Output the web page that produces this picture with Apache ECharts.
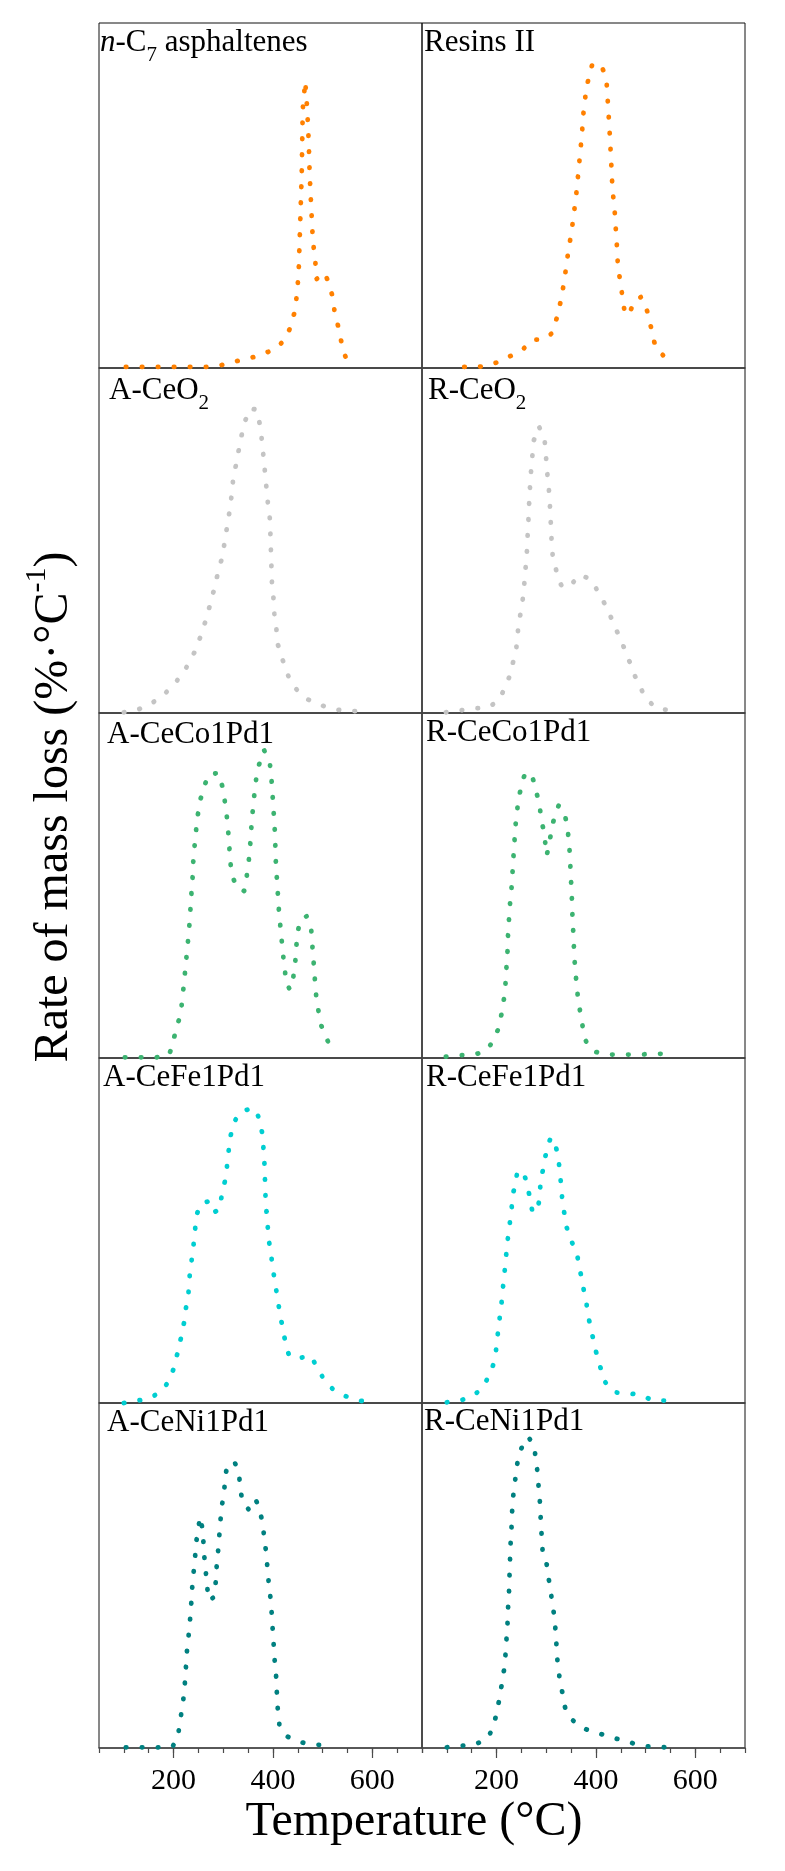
<!DOCTYPE html>
<html><head><meta charset="utf-8">
<script src="https://cdn.jsdelivr.net/npm/echarts@6/dist/echarts.min.js"></script>
<style>html,body{margin:0;padding:0;background:#fff}#c{width:785px;height:1871px}</style>
</head><body><div id="c"></div>
<script>
// Temperature ticks (°C)
const xTickLabels = [200, 400, 600];
const xRange = [50, 700];

// Panel names (row by row, left then right)
const panelNames = ['n-C7 asphaltenes', 'Resins II', 'A-CeO2', 'R-CeO2', 'A-CeCo1Pd1', 'R-CeCo1Pd1', 'A-CeFe1Pd1', 'R-CeFe1Pd1', 'A-CeNi1Pd1', 'R-CeNi1Pd1'];

// [temperature °C, rate of mass loss (relative units, panel = 100)]
const nC7Asphaltenes = [[104,0.3],[265,0.3],[289,0.6],[313,1.4],[337,2.4],[362,3.2],[385,4.3],[410,6.1],[426,8.7],[436,12.1],[443,15.9],[447,19.8],[450,24.3],[452,28.8],[454,38],[456,47.2],[458,56.4],[459,65.7],[460,75],[465,83.1],[469,75],[472,65.7],[474,55.9],[477,46.8],[480,38],[483,33.4],[486,29.8],[488,25.8],[504,27.6],[513,24.4],[520,20.7],[524,16.4],[530,12.9],[535,9.5],[540,5.9],[548,2.4],[566,0.3]];
const resinsII = [[135,0.3],[163,0.3],[185,0.8],[208,2],[230,3.6],[253,5.4],[272,8.2],[292,8.2],[310,9.9],[319,13.3],[327,17.9],[333,22.4],[338,27],[342,31.5],[347,36],[352,40.7],[356,45.2],[360,49.7],[363,54.2],[366,58.8],[369,63.4],[372,68],[374,72.6],[377,76.8],[381,81],[386,84.6],[393,88.2],[411,87.7],[421,83.9],[423,79.2],[425,74.7],[427,69.7],[429,65],[430,61],[432,56.6],[433,52],[436,48.2],[438,44.9],[440,40.3],[442,35.9],[443,32.4],[445,28.7],[450,24.3],[454,19.8],[458,16.2],[467,15.3],[476,19.4],[491,20.6],[501,17.7],[508,13.6],[514,9.8],[520,5.9],[537,3.4],[559,2]];
const aCeO2 = [[100,0.2],[124,0.7],[151,2.4],[175,4.6],[199,7.9],[218,11.4],[233,14.9],[247,19.1],[257,23.4],[267,27.8],[275,32.3],[283,36.5],[289,40.5],[298,45.2],[303,49.6],[308,54.2],[313,58.7],[317,63.3],[320,67.8],[326,72.2],[332,76.8],[338,81.2],[344,84.6],[354,88.3],[368,87.9],[374,83.3],[378,78.8],[381,74.3],[384,69.8],[387,65.2],[390,60.6],[394,56.1],[395,51.5],[396,46.9],[397,42.4],[398,37.8],[401,33.4],[403,28.7],[407,24.3],[410,19.8],[420,15.2],[430,11],[445,7.2],[465,4.3],[488,2.7],[515,1.4],[540,0.7],[556,0.7],[586,0.2]];
const rCeO2 = [[98,0.2],[125,0.7],[155,1.4],[180,1.4],[203,3.4],[218,7.5],[228,11.4],[234,15.2],[240,19.1],[243,23.7],[247,27.8],[251,31.1],[255,35.5],[257,40],[260,44.2],[262,49],[263,53.3],[265,57.9],[266,62.6],[270,71.3],[275,79],[280,81.4],[285,83.1],[296,80.2],[299,75.6],[301,71.1],[304,66.8],[307,62.1],[308,57.7],[310,53.2],[311,48.6],[314,44.2],[318,42.9],[323,39.1],[333,36.3],[351,37.4],[369,40.1],[389,38.7],[403,35.5],[416,32.1],[428,28.5],[439,24.7],[451,21],[460,17.6],[469,14.4],[479,10.6],[489,7.5],[502,3.9],[524,1.2],[557,0.7]];
const aCeCo1Pd1 = [[102,0.2],[135,0.2],[166,0.2],[191,0.8],[199,4.4],[205,8.5],[211,11.1],[216,14.9],[219,18.9],[222,23.2],[225,27.7],[228,32.3],[231,36.8],[233,40.8],[235,45.4],[237,49.9],[239,53.6],[240,58.2],[243,62.4],[246,66.9],[249,70.6],[254,74.9],[262,78.7],[270,82.2],[291,82.6],[299,78.3],[303,74.6],[307,70.3],[310,65.7],[312,61.8],[314,57.2],[317,53.6],[326,49.5],[342,48.4],[347,52.4],[351,56.6],[354,61.1],[356,65.7],[358,69.5],[361,74.1],[364,78.3],[368,82.8],[374,86],[382,89.3],[393,86.2],[396,82.8],[398,79],[400,74.6],[402,70],[404,65.4],[405,60.8],[406,56.3],[408,51.9],[410,47.4],[412,42.8],[415,38.1],[418,33.6],[421,29.2],[424,25.6],[427,21.3],[435,19.8],[441,23.4],[445,27.8],[447,32.3],[450,36.5],[455,40.1],[468,41.1],[477,37.4],[479,33.1],[481,29.7],[483,25.4],[485,21.7],[487,18.1],[491,14.3],[495,10.4],[503,7],[517,3.1]];
const rCeCo1Pd1 = [[98,0.4],[126,0.8],[156,1],[178,2],[192,4.6],[205,8.9],[210,12.8],[215,17.2],[218,21.5],[220,26.3],[222,30.7],[223,35.4],[225,40.1],[227,44.5],[230,48.9],[232,53.4],[234,58.2],[236,62.6],[238,67.1],[241,71.4],[245,75.4],[250,79.1],[258,82.8],[272,81.6],[280,77.3],[287,72.7],[290,69.3],[296,65],[299,61.1],[301,58.7],[306,62.1],[311,66.4],[316,69.6],[325,73.2],[337,71],[343,66.4],[346,62.1],[348,58],[349,53.4],[351,48.8],[352,44.5],[353,39.9],[355,35.2],[356,30.7],[358,26.3],[361,21.5],[364,17.2],[369,12.8],[374,8.6],[379,5.1],[393,2],[421,1],[454,1],[486,1],[514,1.2],[542,1.2]];
const aCeFe1Pd1 = [[100,0],[128,0.7],[153,1.4],[175,3.4],[193,6.7],[201,10.4],[208,14.5],[215,18.9],[221,23.2],[225,27.5],[230,31.8],[232,36.3],[236,40.9],[240,45.5],[243,49.7],[246,54.2],[253,57.5],[274,58.7],[284,55.5],[292,56],[297,60.1],[304,64.7],[308,69.1],[311,73.2],[315,77.5],[320,81.1],[336,84.5],[361,85.5],[372,82.7],[379,77.8],[381,73.7],[383,69.2],[384,64.7],[385,60.1],[387,55.5],[389,52.4],[391,47.9],[396,43.4],[400,38.8],[405,34.3],[410,29.7],[415,25.2],[421,20.7],[426,16.9],[433,13.5],[455,13.1],[477,13.6],[489,10.2],[503,6.8],[520,4.1],[542,2.2],[566,1],[591,0.2]];
const rCeFe1Pd1 = [[100,0.2],[126,0.7],[148,1.7],[168,3.8],[178,6],[190,9.4],[197,13.1],[200,16.5],[203,20.7],[206,24.3],[210,28.9],[213,33.6],[216,37.7],[219,42.3],[222,46.8],[226,51.4],[230,55.5],[232,60],[238,63.5],[242,67.2],[255,66.7],[262,63],[268,58.9],[272,55.5],[282,55.5],[286,58.9],[287,61.6],[291,65.7],[296,69.8],[301,73.4],[309,77],[319,74.6],[324,71.2],[327,67.7],[330,63],[332,59.4],[336,55.3],[341,51],[348,47.6],[361,44],[366,39.9],[371,36.3],[376,32.4],[381,28.8],[384,25.7],[389,22],[395,18.3],[401,14.4],[408,10.9],[416,6.5],[436,3.1],[468,2.8],[492,2.2],[515,0.7],[549,0.7]];
const aCeNi1Pd1 = [[104,0.2],[138,0.2],[168,0.2],[198,0.4],[208,2.8],[213,7.3],[217,11.5],[221,15.4],[223,19.2],[225,23.6],[227,28.1],[230,32],[232,35.7],[235,39.5],[236,43.2],[238,47.4],[241,51.8],[244,56.4],[246,60],[250,63.5],[253,67],[258,63.7],[260,60],[262,55.4],[265,50.9],[268,46.3],[271,42.7],[281,43.7],[285,48.2],[287,53.2],[290,57.6],[292,61.4],[294,65.3],[297,69.9],[302,74.5],[304,78.6],[309,82.5],[324,82.5],[332,78.9],[335,74.6],[339,71.2],[351,69.2],[365,72.2],[374,68.8],[380,64.4],[383,60.1],[387,56.2],[389,51.8],[392,47.2],[396,42.4],[398,37.9],[400,33.2],[402,28.9],[404,24.3],[407,19.9],[408,15.4],[410,10.7],[413,6.7],[426,3.5],[453,1.8],[465,1.4],[492,0.9],[523,0.4]];
const rCeNi1Pd1 = [[100,0.2],[125,0.6],[154,0.9],[180,2.5],[193,5.7],[200,10.1],[205,13.7],[210,18],[215,22.6],[218,27],[220,31.5],[222,35.7],[223,40.2],[225,44.8],[226,49.5],[227,54],[228,58.6],[230,63.2],[231,67.7],[233,72.4],[237,77],[240,80.8],[244,84.3],[251,87.2],[263,90.2],[275,88.1],[279,83.8],[283,79.3],[285,74.8],[288,70.1],[289,65.6],[291,61.1],[293,56.4],[301,53.2],[303,50.6],[308,46.6],[312,42.1],[317,37.6],[319,33.2],[321,28.9],[323,24.3],[327,20.2],[333,15.6],[338,11.7],[349,8.6],[368,6.2],[387,5],[411,4],[438,2.8],[459,2.1],[484,0.9],[509,0.4],[540,0.2]];

const panelData = [nC7Asphaltenes, resinsII, aCeO2, rCeO2, aCeCo1Pd1, rCeCo1Pd1, aCeFe1Pd1, rCeFe1Pd1, aCeNi1Pd1, rCeNi1Pd1];
const rowColors = ['#FF8000', '#C4C4C4', '#3CB371', '#00CED1', '#008080'];

// rich-text forms of panel names (subscripts / italics)
const panelRich = ['{i|n}{m|-C}{sub|7}{m| asphaltenes}', '{m|Resins II}', '{m|A-CeO}{sub|2}', '{m|R-CeO}{sub|2}', '{m|A-CeCo1Pd1}', '{m|R-CeCo1Pd1}', '{m|A-CeFe1Pd1}', '{m|R-CeFe1Pd1}', '{m|A-CeNi1Pd1}', '{m|R-CeNi1Pd1}'];

const FONT = '"Liberation Serif", "Times New Roman", serif';
const chart = echarts.init(document.getElementById('c'), null, {renderer: 'canvas'});

const top0 = 23, rowH = 345, left0 = 99, colW = 323;
const labelPos = [[100, 43], [424, 43], [109, 391], [428, 391], [107, 735], [426, 733], [103, 1078], [426, 1078], [107, 1423], [424, 1422]];

const grids = [], xAxes = [], yAxes = [], series = [], graphics = [];
for (let i = 0; i < 10; i++) {
  const r = Math.floor(i / 2), c = i % 2;
  const last = r === 4;
  grids.push({left: left0 + c * colW, top: top0 + r * rowH, width: colW, height: rowH,
    show: true, borderColor: '#111', borderWidth: 1, backgroundColor: 'transparent', containLabel: false});
  xAxes.push({gridIndex: i, type: 'value', min: xRange[0], max: xRange[1], position: 'bottom',
    axisLine: {show: true, onZero: false, lineStyle: {color: '#4a4a4a', width: 1.6}},
    axisTick: {show: last, inside: false, length: 10, customValues: xTickLabels, lineStyle: {color: '#4a4a4a', width: 1.2}},
    axisLabel: {show: last, customValues: xTickLabels, margin: 18, fontFamily: FONT, fontSize: 30, color: '#000'},
    splitLine: {show: false}});
  yAxes.push({gridIndex: i, type: 'value', min: 0, max: 100, show: false});
  series.push({type: 'line', xAxisIndex: i, yAxisIndex: i, data: panelData[i], showSymbol: false, symbol: 'none',
    silent: true, clip: false,
    lineStyle: {color: rowColors[r], width: 4.8, type: [0.5, 15.5], cap: 'round', join: 'round'}});
  graphics.push({type: 'text', x: labelPos[i][0], y: labelPos[i][1], silent: true,
    style: {text: panelRich[i], align: 'left', verticalAlign: 'middle', textAlign: 'left', textVerticalAlign: 'middle',
      rich: {
        m: {fontFamily: FONT, fontSize: 31, fill: '#000', color: '#000', lineHeight: 46, verticalAlign: 'middle'},
        i: {fontFamily: FONT, fontSize: 31, fontStyle: 'italic', fill: '#000', color: '#000', lineHeight: 46, verticalAlign: 'middle'},
        sub: {fontFamily: FONT, fontSize: 21, fill: '#000', color: '#000', lineHeight: 21, verticalAlign: 'bottom'}
      }}});
}
// minor ticks every 50 °C on the bottom row
[8, 9].forEach(g => {
  xAxes.push({gridIndex: g, type: 'value', min: xRange[0], max: xRange[1], interval: 50, position: 'bottom',
    axisLine: {show: false}, axisLabel: {show: false}, splitLine: {show: false},
    axisTick: {show: true, length: 5, lineStyle: {color: '#4a4a4a', width: 1.2}}});
});

graphics.push({type: 'text', x: 414, y: 1822, silent: true,
  style: {text: 'Temperature (°C)', font: '48px ' + FONT, fill: '#000', align: 'center', verticalAlign: 'middle', textAlign: 'center', textVerticalAlign: 'middle'}});
graphics.push({type: 'text', x: 54, y: 807, rotation: Math.PI / 2, silent: true,
  style: {text: '{m|Rate of mass loss (%·°C}{sup|-1}{m|)}', align: 'center', verticalAlign: 'middle', textAlign: 'center', textVerticalAlign: 'middle',
    rich: {
      m: {fontFamily: FONT, fontSize: 48, fill: '#000', color: '#000', lineHeight: 64, verticalAlign: 'middle'},
      sup: {fontFamily: FONT, fontSize: 30, fill: '#000', color: '#000', lineHeight: 30, verticalAlign: 'top'}
    }}});

chart.setOption({
  animation: false,
  backgroundColor: '#fff',
  grid: grids, xAxis: xAxes, yAxis: yAxes, series: series, graphic: {elements: graphics}
});
</script></body></html>
